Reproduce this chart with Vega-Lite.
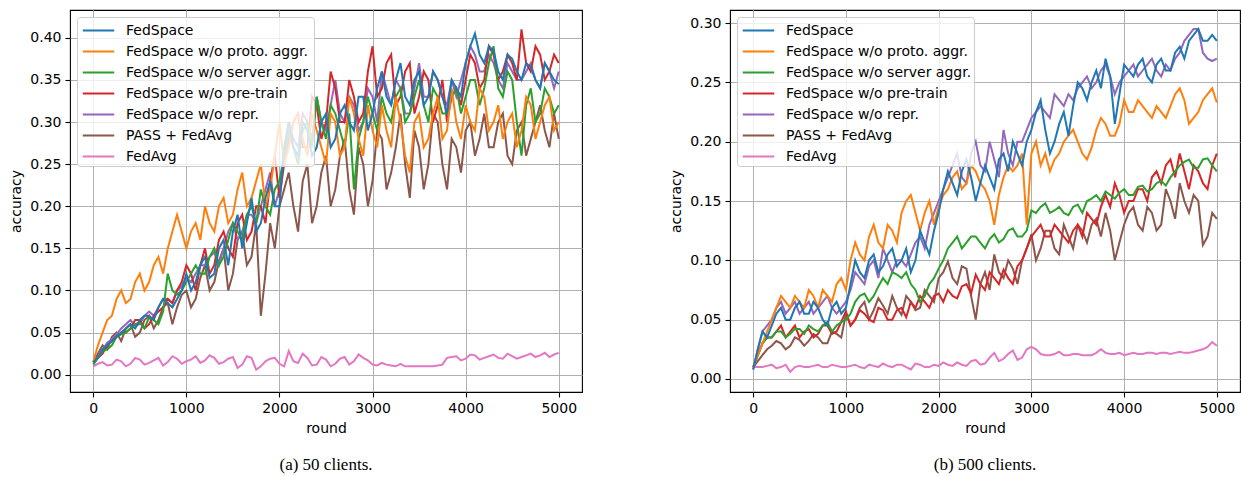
{
"$schema":"https://vega.github.io/schema/vega-lite/v6.json",
"padding":{"left":9,"top":9,"right":1,"bottom":0},
"config":{
"font":"DejaVu Sans",
"view":{"stroke":"black","strokeWidth":1.1},
"axis":{"labelFont":"DejaVu Sans","labelFontSize":14,"labelColor":"black","titleFont":"DejaVu Sans","titleFontSize":14,"titleFontWeight":"normal","titleColor":"black","tickColor":"black","tickSize":5,"tickWidth":1.1,"domain":false,"gridColor":"#b0b0b0","gridWidth":1,"labelPadding":4,"titlePadding":6,"labelFlush":false,"labelOverlap":false},
"legend":{"orient":"top-left","offset":7,"title":null,"fillColor":"rgba(255,255,255,0.8)","strokeColor":"#cccccc","cornerRadius":3,"padding":2,"rowPadding":2,"symbolType":"M-1.5,0H1.5","symbolSize":441,"symbolStrokeWidth":2,"symbolOffset":8,"labelFont":"DejaVu Sans","labelFontSize":14,"labelColor":"black","labelOffset":16,"labelLimit":400},
"title":{"font":"Liberation Serif","fontSize":17,"fontWeight":"normal","color":"black","orient":"bottom","anchor":"middle","offset":22}
},
"resolve":{"scale":{"color":"independent","x":"independent","y":"independent"},"legend":{"color":"independent"}},
"spacing":86,
"datasets":{
"names":[{"s":"F","series":"FedSpace"},{"s":"P","series":"FedSpace w/o proto. aggr."},{"s":"S","series":"FedSpace w/o server aggr."},{"s":"T","series":"FedSpace w/o pre-train"},{"s":"R","series":"FedSpace w/o repr."},{"s":"A","series":"PASS + FedAvg"},{"s":"G","series":"FedAvg"}],
"a":[
{"s":"G","r":0,"v":0.01},{"s":"G","r":100,"v":0.015},{"s":"G","r":200,"v":0.012},{"s":"G","r":300,"v":0.016},{"s":"G","r":400,"v":0.013},{"s":"G","r":500,"v":0.018},{"s":"G","r":600,"v":0.014},{"s":"G","r":700,"v":0.02},{"s":"G","r":800,"v":0.015},{"s":"G","r":900,"v":0.019},{"s":"G","r":1000,"v":0.016},{"s":"G","r":1100,"v":0.022},{"s":"G","r":1200,"v":0.017},{"s":"G","r":1300,"v":0.02},{"s":"G","r":1400,"v":0.015},{"s":"G","r":1500,"v":0.021},{"s":"G","r":1600,"v":0.012},{"s":"G","r":1700,"v":0.02},{"s":"G","r":1800,"v":0.01},{"s":"G","r":1900,"v":0.019},{"s":"G","r":2000,"v":0.013},{"s":"G","r":2100,"v":0.028},{"s":"G","r":2200,"v":0.014},{"s":"G","r":2300,"v":0.02},{"s":"G","r":2400,"v":0.012},{"s":"G","r":2500,"v":0.018},{"s":"G","r":2600,"v":0.013},{"s":"G","r":2700,"v":0.021},{"s":"G","r":2800,"v":0.016},{"s":"G","r":2900,"v":0.02},{"s":"G","r":3000,"v":0.012},{"s":"G","r":3100,"v":0.014},{"s":"G","r":3200,"v":0.011},{"s":"G","r":3300,"v":0.013},{"s":"G","r":3400,"v":0.01},{"s":"G","r":3500,"v":0.01},{"s":"G","r":3600,"v":0.01},{"s":"G","r":3700,"v":0.011},{"s":"G","r":3800,"v":0.02},{"s":"G","r":3900,"v":0.022},{"s":"G","r":4000,"v":0.019},{"s":"G","r":4100,"v":0.023},{"s":"G","r":4200,"v":0.02},{"s":"G","r":4300,"v":0.024},{"s":"G","r":4400,"v":0.019},{"s":"G","r":4500,"v":0.022},{"s":"G","r":4600,"v":0.021},{"s":"G","r":4700,"v":0.025},{"s":"G","r":4800,"v":0.023},{"s":"G","r":4900,"v":0.021},{"s":"G","r":5000,"v":0.026},
{"s":"G","r":50,"v":0.013},{"s":"G","r":150,"v":0.011},{"s":"G","r":250,"v":0.018},{"s":"G","r":350,"v":0.01},{"s":"G","r":450,"v":0.02},{"s":"G","r":550,"v":0.012},{"s":"G","r":650,"v":0.017},{"s":"G","r":750,"v":0.011},{"s":"G","r":850,"v":0.022},{"s":"G","r":950,"v":0.013},{"s":"G","r":1050,"v":0.018},{"s":"G","r":1150,"v":0.014},{"s":"G","r":1250,"v":0.023},{"s":"G","r":1350,"v":0.013},{"s":"G","r":1450,"v":0.019},{"s":"G","r":1550,"v":0.008},{"s":"G","r":1650,"v":0.022},{"s":"G","r":1750,"v":0.006},{"s":"G","r":1850,"v":0.016},{"s":"G","r":1950,"v":0.02},{"s":"G","r":2050,"v":0.01},{"s":"G","r":2150,"v":0.016},{"s":"G","r":2250,"v":0.025},{"s":"G","r":2350,"v":0.011},{"s":"G","r":2450,"v":0.021},{"s":"G","r":2550,"v":0.01},{"s":"G","r":2650,"v":0.019},{"s":"G","r":2750,"v":0.012},{"s":"G","r":2850,"v":0.024},{"s":"G","r":2950,"v":0.017},{"s":"G","r":3050,"v":0.011},{"s":"G","r":3150,"v":0.012},{"s":"G","r":3250,"v":0.01},{"s":"G","r":3350,"v":0.01},{"s":"G","r":3450,"v":0.01},{"s":"G","r":3550,"v":0.01},{"s":"G","r":3650,"v":0.01},{"s":"G","r":3750,"v":0.012},{"s":"G","r":3850,"v":0.021},{"s":"G","r":3950,"v":0.017},{"s":"G","r":4050,"v":0.024},{"s":"G","r":4150,"v":0.018},{"s":"G","r":4250,"v":0.022},{"s":"G","r":4350,"v":0.02},{"s":"G","r":4450,"v":0.025},{"s":"G","r":4550,"v":0.019},{"s":"G","r":4650,"v":0.023},{"s":"G","r":4750,"v":0.021},{"s":"G","r":4850,"v":0.026},{"s":"G","r":4950,"v":0.024},
{"s":"A","r":0,"v":0.015},{"s":"A","r":100,"v":0.035},{"s":"A","r":200,"v":0.045},{"s":"A","r":300,"v":0.04},{"s":"A","r":400,"v":0.06},{"s":"A","r":500,"v":0.05},{"s":"A","r":600,"v":0.07},{"s":"A","r":700,"v":0.065},{"s":"A","r":800,"v":0.085},{"s":"A","r":900,"v":0.08},{"s":"A","r":1000,"v":0.1},{"s":"A","r":1100,"v":0.09},{"s":"A","r":1200,"v":0.13},{"s":"A","r":1300,"v":0.11},{"s":"A","r":1400,"v":0.15},{"s":"A","r":1500,"v":0.12},{"s":"A","r":1600,"v":0.17},{"s":"A","r":1700,"v":0.14},{"s":"A","r":1800,"v":0.07},{"s":"A","r":1900,"v":0.18},{"s":"A","r":2000,"v":0.2},{"s":"A","r":2100,"v":0.24},{"s":"A","r":2200,"v":0.17},{"s":"A","r":2300,"v":0.25},{"s":"A","r":2400,"v":0.2},{"s":"A","r":2500,"v":0.26},{"s":"A","r":2600,"v":0.22},{"s":"A","r":2700,"v":0.28},{"s":"A","r":2800,"v":0.19},{"s":"A","r":2900,"v":0.25},{"s":"A","r":3000,"v":0.23},{"s":"A","r":3100,"v":0.28},{"s":"A","r":3200,"v":0.24},{"s":"A","r":3300,"v":0.31},{"s":"A","r":3400,"v":0.21},{"s":"A","r":3500,"v":0.27},{"s":"A","r":3600,"v":0.25},{"s":"A","r":3700,"v":0.3},{"s":"A","r":3800,"v":0.22},{"s":"A","r":3900,"v":0.27},{"s":"A","r":4000,"v":0.29},{"s":"A","r":4100,"v":0.26},{"s":"A","r":4200,"v":0.31},{"s":"A","r":4300,"v":0.27},{"s":"A","r":4400,"v":0.31},{"s":"A","r":4500,"v":0.25},{"s":"A","r":4600,"v":0.3},{"s":"A","r":4700,"v":0.28},{"s":"A","r":4800,"v":0.32},{"s":"A","r":4900,"v":0.27},{"s":"A","r":5000,"v":0.28},
{"s":"A","r":50,"v":0.025},{"s":"A","r":150,"v":0.03},{"s":"A","r":250,"v":0.05},{"s":"A","r":350,"v":0.055},{"s":"A","r":450,"v":0.045},{"s":"A","r":550,"v":0.065},{"s":"A","r":650,"v":0.055},{"s":"A","r":750,"v":0.08},{"s":"A","r":850,"v":0.06},{"s":"A","r":950,"v":0.095},{"s":"A","r":1050,"v":0.08},{"s":"A","r":1150,"v":0.115},{"s":"A","r":1250,"v":0.1},{"s":"A","r":1350,"v":0.135},{"s":"A","r":1450,"v":0.1},{"s":"A","r":1550,"v":0.16},{"s":"A","r":1650,"v":0.13},{"s":"A","r":1750,"v":0.18},{"s":"A","r":1850,"v":0.12},{"s":"A","r":1950,"v":0.15},{"s":"A","r":2050,"v":0.22},{"s":"A","r":2150,"v":0.2},{"s":"A","r":2250,"v":0.23},{"s":"A","r":2350,"v":0.18},{"s":"A","r":2450,"v":0.24},{"s":"A","r":2550,"v":0.2},{"s":"A","r":2650,"v":0.26},{"s":"A","r":2750,"v":0.22},{"s":"A","r":2850,"v":0.27},{"s":"A","r":2950,"v":0.2},{"s":"A","r":3050,"v":0.29},{"s":"A","r":3150,"v":0.22},{"s":"A","r":3250,"v":0.27},{"s":"A","r":3350,"v":0.25},{"s":"A","r":3450,"v":0.29},{"s":"A","r":3550,"v":0.22},{"s":"A","r":3650,"v":0.31},{"s":"A","r":3750,"v":0.25},{"s":"A","r":3850,"v":0.28},{"s":"A","r":3950,"v":0.24},{"s":"A","r":4050,"v":0.3},{"s":"A","r":4150,"v":0.28},{"s":"A","r":4250,"v":0.27},{"s":"A","r":4350,"v":0.3},{"s":"A","r":4450,"v":0.26},{"s":"A","r":4550,"v":0.29},{"s":"A","r":4650,"v":0.26},{"s":"A","r":4750,"v":0.3},{"s":"A","r":4850,"v":0.29},{"s":"A","r":4950,"v":0.31},
{"s":"R","r":0,"v":0.013},{"s":"R","r":100,"v":0.03},{"s":"R","r":200,"v":0.042},{"s":"R","r":300,"v":0.055},{"s":"R","r":400,"v":0.065},{"s":"R","r":500,"v":0.06},{"s":"R","r":600,"v":0.075},{"s":"R","r":700,"v":0.08},{"s":"R","r":800,"v":0.09},{"s":"R","r":900,"v":0.1},{"s":"R","r":1000,"v":0.115},{"s":"R","r":1100,"v":0.12},{"s":"R","r":1200,"v":0.13},{"s":"R","r":1300,"v":0.145},{"s":"R","r":1400,"v":0.15},{"s":"R","r":1500,"v":0.18},{"s":"R","r":1600,"v":0.17},{"s":"R","r":1700,"v":0.19},{"s":"R","r":1800,"v":0.2},{"s":"R","r":1900,"v":0.24},{"s":"R","r":2000,"v":0.22},{"s":"R","r":2100,"v":0.3},{"s":"R","r":2200,"v":0.27},{"s":"R","r":2300,"v":0.3},{"s":"R","r":2400,"v":0.33},{"s":"R","r":2500,"v":0.29},{"s":"R","r":2600,"v":0.35},{"s":"R","r":2700,"v":0.3},{"s":"R","r":2800,"v":0.32},{"s":"R","r":2900,"v":0.3},{"s":"R","r":3000,"v":0.33},{"s":"R","r":3100,"v":0.36},{"s":"R","r":3200,"v":0.32},{"s":"R","r":3300,"v":0.34},{"s":"R","r":3400,"v":0.31},{"s":"R","r":3500,"v":0.37},{"s":"R","r":3600,"v":0.33},{"s":"R","r":3700,"v":0.35},{"s":"R","r":3800,"v":0.32},{"s":"R","r":3900,"v":0.33},{"s":"R","r":4000,"v":0.37},{"s":"R","r":4100,"v":0.38},{"s":"R","r":4200,"v":0.36},{"s":"R","r":4300,"v":0.37},{"s":"R","r":4400,"v":0.34},{"s":"R","r":4500,"v":0.36},{"s":"R","r":4600,"v":0.35},{"s":"R","r":4700,"v":0.37},{"s":"R","r":4800,"v":0.34},{"s":"R","r":4900,"v":0.36},{"s":"R","r":5000,"v":0.36},
{"s":"R","r":50,"v":0.02},{"s":"R","r":150,"v":0.038},{"s":"R","r":250,"v":0.048},{"s":"R","r":350,"v":0.06},{"s":"R","r":450,"v":0.058},{"s":"R","r":550,"v":0.07},{"s":"R","r":650,"v":0.07},{"s":"R","r":750,"v":0.09},{"s":"R","r":850,"v":0.085},{"s":"R","r":950,"v":0.105},{"s":"R","r":1050,"v":0.11},{"s":"R","r":1150,"v":0.13},{"s":"R","r":1250,"v":0.14},{"s":"R","r":1350,"v":0.13},{"s":"R","r":1450,"v":0.17},{"s":"R","r":1550,"v":0.16},{"s":"R","r":1650,"v":0.19},{"s":"R","r":1750,"v":0.18},{"s":"R","r":1850,"v":0.22},{"s":"R","r":1950,"v":0.2},{"s":"R","r":2050,"v":0.26},{"s":"R","r":2150,"v":0.28},{"s":"R","r":2250,"v":0.31},{"s":"R","r":2350,"v":0.28},{"s":"R","r":2450,"v":0.3},{"s":"R","r":2550,"v":0.32},{"s":"R","r":2650,"v":0.31},{"s":"R","r":2750,"v":0.33},{"s":"R","r":2850,"v":0.29},{"s":"R","r":2950,"v":0.34},{"s":"R","r":3050,"v":0.3},{"s":"R","r":3150,"v":0.34},{"s":"R","r":3250,"v":0.35},{"s":"R","r":3350,"v":0.31},{"s":"R","r":3450,"v":0.34},{"s":"R","r":3550,"v":0.33},{"s":"R","r":3650,"v":0.36},{"s":"R","r":3750,"v":0.33},{"s":"R","r":3850,"v":0.35},{"s":"R","r":3950,"v":0.35},{"s":"R","r":4050,"v":0.39},{"s":"R","r":4150,"v":0.36},{"s":"R","r":4250,"v":0.38},{"s":"R","r":4350,"v":0.35},{"s":"R","r":4450,"v":0.37},{"s":"R","r":4550,"v":0.35},{"s":"R","r":4650,"v":0.36},{"s":"R","r":4750,"v":0.35},{"s":"R","r":4850,"v":0.37},{"s":"R","r":4950,"v":0.34},
{"s":"T","r":0,"v":0.015},{"s":"T","r":100,"v":0.025},{"s":"T","r":200,"v":0.04},{"s":"T","r":300,"v":0.05},{"s":"T","r":400,"v":0.055},{"s":"T","r":500,"v":0.065},{"s":"T","r":600,"v":0.06},{"s":"T","r":700,"v":0.075},{"s":"T","r":800,"v":0.09},{"s":"T","r":900,"v":0.1},{"s":"T","r":1000,"v":0.13},{"s":"T","r":1100,"v":0.1},{"s":"T","r":1200,"v":0.15},{"s":"T","r":1300,"v":0.13},{"s":"T","r":1400,"v":0.17},{"s":"T","r":1500,"v":0.14},{"s":"T","r":1600,"v":0.19},{"s":"T","r":1700,"v":0.17},{"s":"T","r":1800,"v":0.2},{"s":"T","r":1900,"v":0.23},{"s":"T","r":2000,"v":0.21},{"s":"T","r":2100,"v":0.28},{"s":"T","r":2200,"v":0.31},{"s":"T","r":2300,"v":0.27},{"s":"T","r":2400,"v":0.32},{"s":"T","r":2500,"v":0.3},{"s":"T","r":2600,"v":0.34},{"s":"T","r":2700,"v":0.3},{"s":"T","r":2800,"v":0.33},{"s":"T","r":2900,"v":0.31},{"s":"T","r":3000,"v":0.39},{"s":"T","r":3100,"v":0.34},{"s":"T","r":3200,"v":0.38},{"s":"T","r":3300,"v":0.33},{"s":"T","r":3400,"v":0.37},{"s":"T","r":3500,"v":0.33},{"s":"T","r":3600,"v":0.35},{"s":"T","r":3700,"v":0.32},{"s":"T","r":3800,"v":0.3},{"s":"T","r":3900,"v":0.34},{"s":"T","r":4000,"v":0.35},{"s":"T","r":4100,"v":0.37},{"s":"T","r":4200,"v":0.35},{"s":"T","r":4300,"v":0.38},{"s":"T","r":4400,"v":0.36},{"s":"T","r":4500,"v":0.37},{"s":"T","r":4600,"v":0.41},{"s":"T","r":4700,"v":0.36},{"s":"T","r":4800,"v":0.38},{"s":"T","r":4900,"v":0.36},{"s":"T","r":5000,"v":0.37},
{"s":"T","r":50,"v":0.02},{"s":"T","r":150,"v":0.035},{"s":"T","r":250,"v":0.045},{"s":"T","r":350,"v":0.05},{"s":"T","r":450,"v":0.065},{"s":"T","r":550,"v":0.055},{"s":"T","r":650,"v":0.07},{"s":"T","r":750,"v":0.08},{"s":"T","r":850,"v":0.085},{"s":"T","r":950,"v":0.11},{"s":"T","r":1050,"v":0.12},{"s":"T","r":1150,"v":0.13},{"s":"T","r":1250,"v":0.12},{"s":"T","r":1350,"v":0.16},{"s":"T","r":1450,"v":0.15},{"s":"T","r":1550,"v":0.18},{"s":"T","r":1650,"v":0.16},{"s":"T","r":1750,"v":0.2},{"s":"T","r":1850,"v":0.18},{"s":"T","r":1950,"v":0.26},{"s":"T","r":2050,"v":0.25},{"s":"T","r":2150,"v":0.3},{"s":"T","r":2250,"v":0.27},{"s":"T","r":2350,"v":0.33},{"s":"T","r":2450,"v":0.28},{"s":"T","r":2550,"v":0.36},{"s":"T","r":2650,"v":0.3},{"s":"T","r":2750,"v":0.35},{"s":"T","r":2850,"v":0.3},{"s":"T","r":2950,"v":0.36},{"s":"T","r":3050,"v":0.33},{"s":"T","r":3150,"v":0.37},{"s":"T","r":3250,"v":0.32},{"s":"T","r":3350,"v":0.36},{"s":"T","r":3450,"v":0.31},{"s":"T","r":3550,"v":0.36},{"s":"T","r":3650,"v":0.3},{"s":"T","r":3750,"v":0.35},{"s":"T","r":3850,"v":0.33},{"s":"T","r":3950,"v":0.32},{"s":"T","r":4050,"v":0.38},{"s":"T","r":4150,"v":0.34},{"s":"T","r":4250,"v":0.39},{"s":"T","r":4350,"v":0.35},{"s":"T","r":4450,"v":0.38},{"s":"T","r":4550,"v":0.35},{"s":"T","r":4650,"v":0.37},{"s":"T","r":4750,"v":0.39},{"s":"T","r":4850,"v":0.35},{"s":"T","r":4950,"v":0.38},
{"s":"S","r":0,"v":0.012},{"s":"S","r":100,"v":0.028},{"s":"S","r":200,"v":0.035},{"s":"S","r":300,"v":0.048},{"s":"S","r":400,"v":0.055},{"s":"S","r":500,"v":0.062},{"s":"S","r":600,"v":0.068},{"s":"S","r":700,"v":0.06},{"s":"S","r":800,"v":0.12},{"s":"S","r":900,"v":0.095},{"s":"S","r":1000,"v":0.11},{"s":"S","r":1100,"v":0.13},{"s":"S","r":1200,"v":0.12},{"s":"S","r":1300,"v":0.15},{"s":"S","r":1400,"v":0.14},{"s":"S","r":1500,"v":0.18},{"s":"S","r":1600,"v":0.16},{"s":"S","r":1700,"v":0.2},{"s":"S","r":1800,"v":0.22},{"s":"S","r":1900,"v":0.19},{"s":"S","r":2000,"v":0.23},{"s":"S","r":2100,"v":0.29},{"s":"S","r":2200,"v":0.25},{"s":"S","r":2300,"v":0.3},{"s":"S","r":2400,"v":0.33},{"s":"S","r":2500,"v":0.28},{"s":"S","r":2600,"v":0.31},{"s":"S","r":2700,"v":0.27},{"s":"S","r":2800,"v":0.22},{"s":"S","r":2900,"v":0.3},{"s":"S","r":3000,"v":0.31},{"s":"S","r":3100,"v":0.33},{"s":"S","r":3200,"v":0.3},{"s":"S","r":3300,"v":0.34},{"s":"S","r":3400,"v":0.31},{"s":"S","r":3500,"v":0.35},{"s":"S","r":3600,"v":0.3},{"s":"S","r":3700,"v":0.33},{"s":"S","r":3800,"v":0.31},{"s":"S","r":3900,"v":0.34},{"s":"S","r":4000,"v":0.33},{"s":"S","r":4100,"v":0.35},{"s":"S","r":4200,"v":0.34},{"s":"S","r":4300,"v":0.39},{"s":"S","r":4400,"v":0.33},{"s":"S","r":4500,"v":0.35},{"s":"S","r":4600,"v":0.26},{"s":"S","r":4700,"v":0.34},{"s":"S","r":4800,"v":0.31},{"s":"S","r":4900,"v":0.33},{"s":"S","r":5000,"v":0.32},
{"s":"S","r":50,"v":0.02},{"s":"S","r":150,"v":0.03},{"s":"S","r":250,"v":0.045},{"s":"S","r":350,"v":0.05},{"s":"S","r":450,"v":0.06},{"s":"S","r":550,"v":0.055},{"s":"S","r":650,"v":0.065},{"s":"S","r":750,"v":0.075},{"s":"S","r":850,"v":0.1},{"s":"S","r":950,"v":0.1},{"s":"S","r":1050,"v":0.12},{"s":"S","r":1150,"v":0.12},{"s":"S","r":1250,"v":0.14},{"s":"S","r":1350,"v":0.13},{"s":"S","r":1450,"v":0.16},{"s":"S","r":1550,"v":0.17},{"s":"S","r":1650,"v":0.19},{"s":"S","r":1750,"v":0.18},{"s":"S","r":1850,"v":0.2},{"s":"S","r":1950,"v":0.22},{"s":"S","r":2050,"v":0.26},{"s":"S","r":2150,"v":0.27},{"s":"S","r":2250,"v":0.29},{"s":"S","r":2350,"v":0.27},{"s":"S","r":2450,"v":0.3},{"s":"S","r":2550,"v":0.32},{"s":"S","r":2650,"v":0.29},{"s":"S","r":2750,"v":0.31},{"s":"S","r":2850,"v":0.28},{"s":"S","r":2950,"v":0.33},{"s":"S","r":3050,"v":0.29},{"s":"S","r":3150,"v":0.31},{"s":"S","r":3250,"v":0.33},{"s":"S","r":3350,"v":0.3},{"s":"S","r":3450,"v":0.33},{"s":"S","r":3550,"v":0.32},{"s":"S","r":3650,"v":0.34},{"s":"S","r":3750,"v":0.31},{"s":"S","r":3850,"v":0.33},{"s":"S","r":3950,"v":0.31},{"s":"S","r":4050,"v":0.35},{"s":"S","r":4150,"v":0.32},{"s":"S","r":4250,"v":0.37},{"s":"S","r":4350,"v":0.34},{"s":"S","r":4450,"v":0.36},{"s":"S","r":4550,"v":0.3},{"s":"S","r":4650,"v":0.32},{"s":"S","r":4750,"v":0.3},{"s":"S","r":4850,"v":0.34},{"s":"S","r":4950,"v":0.31},
{"s":"P","r":0,"v":0.015},{"s":"P","r":100,"v":0.05},{"s":"P","r":200,"v":0.07},{"s":"P","r":300,"v":0.1},{"s":"P","r":400,"v":0.09},{"s":"P","r":500,"v":0.12},{"s":"P","r":600,"v":0.11},{"s":"P","r":700,"v":0.14},{"s":"P","r":800,"v":0.15},{"s":"P","r":900,"v":0.19},{"s":"P","r":1000,"v":0.15},{"s":"P","r":1100,"v":0.18},{"s":"P","r":1200,"v":0.2},{"s":"P","r":1300,"v":0.17},{"s":"P","r":1400,"v":0.21},{"s":"P","r":1500,"v":0.19},{"s":"P","r":1600,"v":0.24},{"s":"P","r":1700,"v":0.21},{"s":"P","r":1800,"v":0.25},{"s":"P","r":1900,"v":0.22},{"s":"P","r":2000,"v":0.3},{"s":"P","r":2100,"v":0.27},{"s":"P","r":2200,"v":0.31},{"s":"P","r":2300,"v":0.26},{"s":"P","r":2400,"v":0.29},{"s":"P","r":2500,"v":0.25},{"s":"P","r":2600,"v":0.3},{"s":"P","r":2700,"v":0.27},{"s":"P","r":2800,"v":0.31},{"s":"P","r":2900,"v":0.26},{"s":"P","r":3000,"v":0.29},{"s":"P","r":3100,"v":0.32},{"s":"P","r":3200,"v":0.27},{"s":"P","r":3300,"v":0.3},{"s":"P","r":3400,"v":0.24},{"s":"P","r":3500,"v":0.31},{"s":"P","r":3600,"v":0.28},{"s":"P","r":3700,"v":0.33},{"s":"P","r":3800,"v":0.29},{"s":"P","r":3900,"v":0.3},{"s":"P","r":4000,"v":0.32},{"s":"P","r":4100,"v":0.29},{"s":"P","r":4200,"v":0.33},{"s":"P","r":4300,"v":0.3},{"s":"P","r":4400,"v":0.28},{"s":"P","r":4500,"v":0.31},{"s":"P","r":4600,"v":0.29},{"s":"P","r":4700,"v":0.32},{"s":"P","r":4800,"v":0.3},{"s":"P","r":4900,"v":0.33},{"s":"P","r":5000,"v":0.3},
{"s":"P","r":50,"v":0.035},{"s":"P","r":150,"v":0.065},{"s":"P","r":250,"v":0.09},{"s":"P","r":350,"v":0.085},{"s":"P","r":450,"v":0.11},{"s":"P","r":550,"v":0.1},{"s":"P","r":650,"v":0.13},{"s":"P","r":750,"v":0.12},{"s":"P","r":850,"v":0.17},{"s":"P","r":950,"v":0.17},{"s":"P","r":1050,"v":0.17},{"s":"P","r":1150,"v":0.16},{"s":"P","r":1250,"v":0.18},{"s":"P","r":1350,"v":0.2},{"s":"P","r":1450,"v":0.18},{"s":"P","r":1550,"v":0.22},{"s":"P","r":1650,"v":0.2},{"s":"P","r":1750,"v":0.23},{"s":"P","r":1850,"v":0.2},{"s":"P","r":1950,"v":0.26},{"s":"P","r":2050,"v":0.25},{"s":"P","r":2150,"v":0.3},{"s":"P","r":2250,"v":0.28},{"s":"P","r":2350,"v":0.31},{"s":"P","r":2450,"v":0.27},{"s":"P","r":2550,"v":0.31},{"s":"P","r":2650,"v":0.26},{"s":"P","r":2750,"v":0.33},{"s":"P","r":2850,"v":0.28},{"s":"P","r":2950,"v":0.32},{"s":"P","r":3050,"v":0.27},{"s":"P","r":3150,"v":0.29},{"s":"P","r":3250,"v":0.33},{"s":"P","r":3350,"v":0.26},{"s":"P","r":3450,"v":0.3},{"s":"P","r":3550,"v":0.27},{"s":"P","r":3650,"v":0.31},{"s":"P","r":3750,"v":0.28},{"s":"P","r":3850,"v":0.34},{"s":"P","r":3950,"v":0.28},{"s":"P","r":4050,"v":0.3},{"s":"P","r":4150,"v":0.34},{"s":"P","r":4250,"v":0.29},{"s":"P","r":4350,"v":0.32},{"s":"P","r":4450,"v":0.3},{"s":"P","r":4550,"v":0.27},{"s":"P","r":4650,"v":0.33},{"s":"P","r":4750,"v":0.28},{"s":"P","r":4850,"v":0.32},{"s":"P","r":4950,"v":0.29},
{"s":"F","r":0,"v":0.015},{"s":"F","r":100,"v":0.03},{"s":"F","r":200,"v":0.04},{"s":"F","r":300,"v":0.05},{"s":"F","r":400,"v":0.06},{"s":"F","r":500,"v":0.065},{"s":"F","r":600,"v":0.07},{"s":"F","r":700,"v":0.08},{"s":"F","r":800,"v":0.085},{"s":"F","r":900,"v":0.09},{"s":"F","r":1000,"v":0.12},{"s":"F","r":1100,"v":0.11},{"s":"F","r":1200,"v":0.14},{"s":"F","r":1300,"v":0.12},{"s":"F","r":1400,"v":0.16},{"s":"F","r":1500,"v":0.17},{"s":"F","r":1600,"v":0.15},{"s":"F","r":1700,"v":0.21},{"s":"F","r":1800,"v":0.18},{"s":"F","r":1900,"v":0.23},{"s":"F","r":2000,"v":0.2},{"s":"F","r":2100,"v":0.3},{"s":"F","r":2200,"v":0.26},{"s":"F","r":2300,"v":0.29},{"s":"F","r":2400,"v":0.27},{"s":"F","r":2500,"v":0.31},{"s":"F","r":2600,"v":0.28},{"s":"F","r":2700,"v":0.32},{"s":"F","r":2800,"v":0.29},{"s":"F","r":2900,"v":0.33},{"s":"F","r":3000,"v":0.31},{"s":"F","r":3100,"v":0.36},{"s":"F","r":3200,"v":0.32},{"s":"F","r":3300,"v":0.37},{"s":"F","r":3400,"v":0.32},{"s":"F","r":3500,"v":0.36},{"s":"F","r":3600,"v":0.33},{"s":"F","r":3700,"v":0.35},{"s":"F","r":3800,"v":0.31},{"s":"F","r":3900,"v":0.34},{"s":"F","r":4000,"v":0.37},{"s":"F","r":4100,"v":0.405},{"s":"F","r":4200,"v":0.37},{"s":"F","r":4300,"v":0.385},{"s":"F","r":4400,"v":0.35},{"s":"F","r":4500,"v":0.375},{"s":"F","r":4600,"v":0.35},{"s":"F","r":4700,"v":0.365},{"s":"F","r":4800,"v":0.34},{"s":"F","r":4900,"v":0.36},{"s":"F","r":5000,"v":0.345},
{"s":"F","r":50,"v":0.02},{"s":"F","r":150,"v":0.035},{"s":"F","r":250,"v":0.045},{"s":"F","r":350,"v":0.055},{"s":"F","r":450,"v":0.055},{"s":"F","r":550,"v":0.07},{"s":"F","r":650,"v":0.065},{"s":"F","r":750,"v":0.09},{"s":"F","r":850,"v":0.08},{"s":"F","r":950,"v":0.1},{"s":"F","r":1050,"v":0.1},{"s":"F","r":1150,"v":0.13},{"s":"F","r":1250,"v":0.115},{"s":"F","r":1350,"v":0.15},{"s":"F","r":1450,"v":0.13},{"s":"F","r":1550,"v":0.19},{"s":"F","r":1650,"v":0.18},{"s":"F","r":1750,"v":0.17},{"s":"F","r":1850,"v":0.21},{"s":"F","r":1950,"v":0.2},{"s":"F","r":2050,"v":0.27},{"s":"F","r":2150,"v":0.27},{"s":"F","r":2250,"v":0.3},{"s":"F","r":2350,"v":0.26},{"s":"F","r":2450,"v":0.3},{"s":"F","r":2550,"v":0.27},{"s":"F","r":2650,"v":0.31},{"s":"F","r":2750,"v":0.3},{"s":"F","r":2850,"v":0.33},{"s":"F","r":2950,"v":0.29},{"s":"F","r":3050,"v":0.34},{"s":"F","r":3150,"v":0.33},{"s":"F","r":3250,"v":0.35},{"s":"F","r":3350,"v":0.33},{"s":"F","r":3450,"v":0.35},{"s":"F","r":3550,"v":0.32},{"s":"F","r":3650,"v":0.36},{"s":"F","r":3750,"v":0.33},{"s":"F","r":3850,"v":0.35},{"s":"F","r":3950,"v":0.33},{"s":"F","r":4050,"v":0.39},{"s":"F","r":4150,"v":0.38},{"s":"F","r":4250,"v":0.39},{"s":"F","r":4350,"v":0.36},{"s":"F","r":4450,"v":0.38},{"s":"F","r":4550,"v":0.36},{"s":"F","r":4650,"v":0.37},{"s":"F","r":4750,"v":0.35},{"s":"F","r":4850,"v":0.37},{"s":"F","r":4950,"v":0.35}
],
"b":[
{"s":"G","r":0,"v":0.01},{"s":"G","r":100,"v":0.01},{"s":"G","r":200,"v":0.012},{"s":"G","r":300,"v":0.01},{"s":"G","r":400,"v":0.006},{"s":"G","r":500,"v":0.011},{"s":"G","r":600,"v":0.01},{"s":"G","r":700,"v":0.012},{"s":"G","r":800,"v":0.01},{"s":"G","r":900,"v":0.011},{"s":"G","r":1000,"v":0.01},{"s":"G","r":1100,"v":0.012},{"s":"G","r":1200,"v":0.009},{"s":"G","r":1300,"v":0.011},{"s":"G","r":1400,"v":0.013},{"s":"G","r":1500,"v":0.01},{"s":"G","r":1600,"v":0.012},{"s":"G","r":1700,"v":0.008},{"s":"G","r":1800,"v":0.012},{"s":"G","r":1900,"v":0.01},{"s":"G","r":2000,"v":0.011},{"s":"G","r":2100,"v":0.012},{"s":"G","r":2200,"v":0.014},{"s":"G","r":2300,"v":0.011},{"s":"G","r":2400,"v":0.016},{"s":"G","r":2500,"v":0.013},{"s":"G","r":2600,"v":0.022},{"s":"G","r":2700,"v":0.017},{"s":"G","r":2800,"v":0.024},{"s":"G","r":2900,"v":0.018},{"s":"G","r":3000,"v":0.027},{"s":"G","r":3100,"v":0.021},{"s":"G","r":3200,"v":0.02},{"s":"G","r":3300,"v":0.023},{"s":"G","r":3400,"v":0.02},{"s":"G","r":3500,"v":0.021},{"s":"G","r":3600,"v":0.02},{"s":"G","r":3700,"v":0.022},{"s":"G","r":3800,"v":0.022},{"s":"G","r":3900,"v":0.021},{"s":"G","r":4000,"v":0.02},{"s":"G","r":4100,"v":0.022},{"s":"G","r":4200,"v":0.021},{"s":"G","r":4300,"v":0.022},{"s":"G","r":4400,"v":0.022},{"s":"G","r":4500,"v":0.021},{"s":"G","r":4600,"v":0.023},{"s":"G","r":4700,"v":0.022},{"s":"G","r":4800,"v":0.024},{"s":"G","r":4900,"v":0.027},{"s":"G","r":5000,"v":0.028},
{"s":"G","r":50,"v":0.01},{"s":"G","r":150,"v":0.011},{"s":"G","r":250,"v":0.009},{"s":"G","r":350,"v":0.012},{"s":"G","r":450,"v":0.01},{"s":"G","r":550,"v":0.01},{"s":"G","r":650,"v":0.011},{"s":"G","r":750,"v":0.01},{"s":"G","r":850,"v":0.012},{"s":"G","r":950,"v":0.01},{"s":"G","r":1050,"v":0.011},{"s":"G","r":1150,"v":0.01},{"s":"G","r":1250,"v":0.012},{"s":"G","r":1350,"v":0.01},{"s":"G","r":1450,"v":0.011},{"s":"G","r":1550,"v":0.012},{"s":"G","r":1650,"v":0.01},{"s":"G","r":1750,"v":0.013},{"s":"G","r":1850,"v":0.01},{"s":"G","r":1950,"v":0.012},{"s":"G","r":2050,"v":0.014},{"s":"G","r":2150,"v":0.011},{"s":"G","r":2250,"v":0.012},{"s":"G","r":2350,"v":0.015},{"s":"G","r":2450,"v":0.012},{"s":"G","r":2550,"v":0.018},{"s":"G","r":2650,"v":0.015},{"s":"G","r":2750,"v":0.021},{"s":"G","r":2850,"v":0.016},{"s":"G","r":2950,"v":0.025},{"s":"G","r":3050,"v":0.025},{"s":"G","r":3150,"v":0.02},{"s":"G","r":3250,"v":0.021},{"s":"G","r":3350,"v":0.02},{"s":"G","r":3450,"v":0.021},{"s":"G","r":3550,"v":0.02},{"s":"G","r":3650,"v":0.02},{"s":"G","r":3750,"v":0.025},{"s":"G","r":3850,"v":0.021},{"s":"G","r":3950,"v":0.022},{"s":"G","r":4050,"v":0.021},{"s":"G","r":4150,"v":0.021},{"s":"G","r":4250,"v":0.022},{"s":"G","r":4350,"v":0.021},{"s":"G","r":4450,"v":0.022},{"s":"G","r":4550,"v":0.022},{"s":"G","r":4650,"v":0.022},{"s":"G","r":4750,"v":0.023},{"s":"G","r":4850,"v":0.025},{"s":"G","r":4950,"v":0.031},
{"s":"A","r":0,"v":0.01},{"s":"A","r":100,"v":0.02},{"s":"A","r":200,"v":0.028},{"s":"A","r":300,"v":0.03},{"s":"A","r":400,"v":0.028},{"s":"A","r":500,"v":0.033},{"s":"A","r":600,"v":0.032},{"s":"A","r":700,"v":0.035},{"s":"A","r":800,"v":0.03},{"s":"A","r":900,"v":0.038},{"s":"A","r":1000,"v":0.055},{"s":"A","r":1100,"v":0.05},{"s":"A","r":1200,"v":0.065},{"s":"A","r":1300,"v":0.058},{"s":"A","r":1400,"v":0.062},{"s":"A","r":1500,"v":0.07},{"s":"A","r":1600,"v":0.054},{"s":"A","r":1700,"v":0.065},{"s":"A","r":1800,"v":0.06},{"s":"A","r":1900,"v":0.07},{"s":"A","r":2000,"v":0.085},{"s":"A","r":2100,"v":0.099},{"s":"A","r":2200,"v":0.08},{"s":"A","r":2300,"v":0.093},{"s":"A","r":2400,"v":0.05},{"s":"A","r":2500,"v":0.09},{"s":"A","r":2600,"v":0.105},{"s":"A","r":2700,"v":0.085},{"s":"A","r":2800,"v":0.093},{"s":"A","r":2900,"v":0.1},{"s":"A","r":3000,"v":0.122},{"s":"A","r":3100,"v":0.11},{"s":"A","r":3200,"v":0.125},{"s":"A","r":3300,"v":0.105},{"s":"A","r":3400,"v":0.12},{"s":"A","r":3500,"v":0.13},{"s":"A","r":3600,"v":0.115},{"s":"A","r":3700,"v":0.135},{"s":"A","r":3800,"v":0.14},{"s":"A","r":3900,"v":0.1},{"s":"A","r":4000,"v":0.13},{"s":"A","r":4100,"v":0.145},{"s":"A","r":4200,"v":0.125},{"s":"A","r":4300,"v":0.14},{"s":"A","r":4400,"v":0.13},{"s":"A","r":4500,"v":0.15},{"s":"A","r":4600,"v":0.165},{"s":"A","r":4700,"v":0.14},{"s":"A","r":4800,"v":0.15},{"s":"A","r":4900,"v":0.12},{"s":"A","r":5000,"v":0.135},
{"s":"A","r":50,"v":0.015},{"s":"A","r":150,"v":0.025},{"s":"A","r":250,"v":0.032},{"s":"A","r":350,"v":0.025},{"s":"A","r":450,"v":0.035},{"s":"A","r":550,"v":0.028},{"s":"A","r":650,"v":0.038},{"s":"A","r":750,"v":0.03},{"s":"A","r":850,"v":0.04},{"s":"A","r":950,"v":0.035},{"s":"A","r":1050,"v":0.045},{"s":"A","r":1150,"v":0.06},{"s":"A","r":1250,"v":0.05},{"s":"A","r":1350,"v":0.068},{"s":"A","r":1450,"v":0.055},{"s":"A","r":1550,"v":0.06},{"s":"A","r":1650,"v":0.07},{"s":"A","r":1750,"v":0.058},{"s":"A","r":1850,"v":0.075},{"s":"A","r":1950,"v":0.065},{"s":"A","r":2050,"v":0.09},{"s":"A","r":2150,"v":0.085},{"s":"A","r":2250,"v":0.095},{"s":"A","r":2350,"v":0.07},{"s":"A","r":2450,"v":0.08},{"s":"A","r":2550,"v":0.075},{"s":"A","r":2650,"v":0.09},{"s":"A","r":2750,"v":0.1},{"s":"A","r":2850,"v":0.08},{"s":"A","r":2950,"v":0.11},{"s":"A","r":3050,"v":0.1},{"s":"A","r":3150,"v":0.125},{"s":"A","r":3250,"v":0.11},{"s":"A","r":3350,"v":0.13},{"s":"A","r":3450,"v":0.11},{"s":"A","r":3550,"v":0.125},{"s":"A","r":3650,"v":0.13},{"s":"A","r":3750,"v":0.12},{"s":"A","r":3850,"v":0.125},{"s":"A","r":3950,"v":0.115},{"s":"A","r":4050,"v":0.14},{"s":"A","r":4150,"v":0.13},{"s":"A","r":4250,"v":0.145},{"s":"A","r":4350,"v":0.125},{"s":"A","r":4450,"v":0.16},{"s":"A","r":4550,"v":0.135},{"s":"A","r":4650,"v":0.15},{"s":"A","r":4750,"v":0.155},{"s":"A","r":4850,"v":0.113},{"s":"A","r":4950,"v":0.14},
{"s":"R","r":0,"v":0.008},{"s":"R","r":100,"v":0.04},{"s":"R","r":200,"v":0.05},{"s":"R","r":300,"v":0.065},{"s":"R","r":400,"v":0.06},{"s":"R","r":500,"v":0.055},{"s":"R","r":600,"v":0.065},{"s":"R","r":700,"v":0.06},{"s":"R","r":800,"v":0.07},{"s":"R","r":900,"v":0.055},{"s":"R","r":1000,"v":0.065},{"s":"R","r":1100,"v":0.09},{"s":"R","r":1200,"v":0.08},{"s":"R","r":1300,"v":0.1},{"s":"R","r":1400,"v":0.11},{"s":"R","r":1500,"v":0.09},{"s":"R","r":1600,"v":0.1},{"s":"R","r":1700,"v":0.105},{"s":"R","r":1800,"v":0.12},{"s":"R","r":1900,"v":0.13},{"s":"R","r":2000,"v":0.15},{"s":"R","r":2100,"v":0.17},{"s":"R","r":2200,"v":0.19},{"s":"R","r":2300,"v":0.165},{"s":"R","r":2400,"v":0.2},{"s":"R","r":2500,"v":0.175},{"s":"R","r":2600,"v":0.185},{"s":"R","r":2700,"v":0.21},{"s":"R","r":2800,"v":0.18},{"s":"R","r":2900,"v":0.2},{"s":"R","r":3000,"v":0.22},{"s":"R","r":3100,"v":0.23},{"s":"R","r":3200,"v":0.22},{"s":"R","r":3300,"v":0.235},{"s":"R","r":3400,"v":0.24},{"s":"R","r":3500,"v":0.245},{"s":"R","r":3600,"v":0.255},{"s":"R","r":3700,"v":0.25},{"s":"R","r":3800,"v":0.265},{"s":"R","r":3900,"v":0.24},{"s":"R","r":4000,"v":0.255},{"s":"R","r":4100,"v":0.265},{"s":"R","r":4200,"v":0.26},{"s":"R","r":4300,"v":0.27},{"s":"R","r":4400,"v":0.255},{"s":"R","r":4500,"v":0.26},{"s":"R","r":4600,"v":0.275},{"s":"R","r":4700,"v":0.29},{"s":"R","r":4800,"v":0.295},{"s":"R","r":4900,"v":0.27},{"s":"R","r":5000,"v":0.27},
{"s":"R","r":50,"v":0.025},{"s":"R","r":150,"v":0.045},{"s":"R","r":250,"v":0.06},{"s":"R","r":350,"v":0.055},{"s":"R","r":450,"v":0.065},{"s":"R","r":550,"v":0.06},{"s":"R","r":650,"v":0.055},{"s":"R","r":750,"v":0.065},{"s":"R","r":850,"v":0.06},{"s":"R","r":950,"v":0.06},{"s":"R","r":1050,"v":0.075},{"s":"R","r":1150,"v":0.085},{"s":"R","r":1250,"v":0.095},{"s":"R","r":1350,"v":0.085},{"s":"R","r":1450,"v":0.1},{"s":"R","r":1550,"v":0.1},{"s":"R","r":1650,"v":0.095},{"s":"R","r":1750,"v":0.115},{"s":"R","r":1850,"v":0.11},{"s":"R","r":1950,"v":0.14},{"s":"R","r":2050,"v":0.16},{"s":"R","r":2150,"v":0.18},{"s":"R","r":2250,"v":0.17},{"s":"R","r":2350,"v":0.19},{"s":"R","r":2450,"v":0.18},{"s":"R","r":2550,"v":0.2},{"s":"R","r":2650,"v":0.17},{"s":"R","r":2750,"v":0.19},{"s":"R","r":2850,"v":0.2},{"s":"R","r":2950,"v":0.21},{"s":"R","r":3050,"v":0.225},{"s":"R","r":3150,"v":0.225},{"s":"R","r":3250,"v":0.24},{"s":"R","r":3350,"v":0.23},{"s":"R","r":3450,"v":0.235},{"s":"R","r":3550,"v":0.25},{"s":"R","r":3650,"v":0.245},{"s":"R","r":3750,"v":0.26},{"s":"R","r":3850,"v":0.255},{"s":"R","r":3950,"v":0.25},{"s":"R","r":4050,"v":0.26},{"s":"R","r":4150,"v":0.255},{"s":"R","r":4250,"v":0.265},{"s":"R","r":4350,"v":0.26},{"s":"R","r":4450,"v":0.265},{"s":"R","r":4550,"v":0.27},{"s":"R","r":4650,"v":0.285},{"s":"R","r":4750,"v":0.295},{"s":"R","r":4850,"v":0.275},{"s":"R","r":4950,"v":0.268},
{"s":"T","r":0,"v":0.01},{"s":"T","r":100,"v":0.03},{"s":"T","r":200,"v":0.035},{"s":"T","r":300,"v":0.045},{"s":"T","r":400,"v":0.04},{"s":"T","r":500,"v":0.035},{"s":"T","r":600,"v":0.042},{"s":"T","r":700,"v":0.038},{"s":"T","r":800,"v":0.045},{"s":"T","r":900,"v":0.04},{"s":"T","r":1000,"v":0.057},{"s":"T","r":1100,"v":0.05},{"s":"T","r":1200,"v":0.055},{"s":"T","r":1300,"v":0.048},{"s":"T","r":1400,"v":0.058},{"s":"T","r":1500,"v":0.05},{"s":"T","r":1600,"v":0.06},{"s":"T","r":1700,"v":0.065},{"s":"T","r":1800,"v":0.07},{"s":"T","r":1900,"v":0.06},{"s":"T","r":2000,"v":0.072},{"s":"T","r":2100,"v":0.075},{"s":"T","r":2200,"v":0.068},{"s":"T","r":2300,"v":0.08},{"s":"T","r":2400,"v":0.088},{"s":"T","r":2500,"v":0.075},{"s":"T","r":2600,"v":0.085},{"s":"T","r":2700,"v":0.092},{"s":"T","r":2800,"v":0.08},{"s":"T","r":2900,"v":0.1},{"s":"T","r":3000,"v":0.12},{"s":"T","r":3100,"v":0.13},{"s":"T","r":3200,"v":0.12},{"s":"T","r":3300,"v":0.125},{"s":"T","r":3400,"v":0.115},{"s":"T","r":3500,"v":0.13},{"s":"T","r":3600,"v":0.14},{"s":"T","r":3700,"v":0.13},{"s":"T","r":3800,"v":0.155},{"s":"T","r":3900,"v":0.165},{"s":"T","r":4000,"v":0.14},{"s":"T","r":4100,"v":0.15},{"s":"T","r":4200,"v":0.16},{"s":"T","r":4300,"v":0.17},{"s":"T","r":4400,"v":0.165},{"s":"T","r":4500,"v":0.185},{"s":"T","r":4600,"v":0.19},{"s":"T","r":4700,"v":0.16},{"s":"T","r":4800,"v":0.175},{"s":"T","r":4900,"v":0.16},{"s":"T","r":5000,"v":0.19},
{"s":"T","r":50,"v":0.02},{"s":"T","r":150,"v":0.035},{"s":"T","r":250,"v":0.04},{"s":"T","r":350,"v":0.035},{"s":"T","r":450,"v":0.045},{"s":"T","r":550,"v":0.04},{"s":"T","r":650,"v":0.035},{"s":"T","r":750,"v":0.045},{"s":"T","r":850,"v":0.038},{"s":"T","r":950,"v":0.048},{"s":"T","r":1050,"v":0.045},{"s":"T","r":1150,"v":0.058},{"s":"T","r":1250,"v":0.05},{"s":"T","r":1350,"v":0.06},{"s":"T","r":1450,"v":0.05},{"s":"T","r":1550,"v":0.058},{"s":"T","r":1650,"v":0.052},{"s":"T","r":1750,"v":0.06},{"s":"T","r":1850,"v":0.065},{"s":"T","r":1950,"v":0.07},{"s":"T","r":2050,"v":0.065},{"s":"T","r":2150,"v":0.07},{"s":"T","r":2250,"v":0.078},{"s":"T","r":2350,"v":0.072},{"s":"T","r":2450,"v":0.08},{"s":"T","r":2550,"v":0.09},{"s":"T","r":2650,"v":0.08},{"s":"T","r":2750,"v":0.085},{"s":"T","r":2850,"v":0.095},{"s":"T","r":2950,"v":0.11},{"s":"T","r":3050,"v":0.125},{"s":"T","r":3150,"v":0.12},{"s":"T","r":3250,"v":0.13},{"s":"T","r":3350,"v":0.12},{"s":"T","r":3450,"v":0.125},{"s":"T","r":3550,"v":0.12},{"s":"T","r":3650,"v":0.135},{"s":"T","r":3750,"v":0.145},{"s":"T","r":3850,"v":0.145},{"s":"T","r":3950,"v":0.155},{"s":"T","r":4050,"v":0.15},{"s":"T","r":4150,"v":0.16},{"s":"T","r":4250,"v":0.15},{"s":"T","r":4350,"v":0.175},{"s":"T","r":4450,"v":0.18},{"s":"T","r":4550,"v":0.17},{"s":"T","r":4650,"v":0.175},{"s":"T","r":4750,"v":0.18},{"s":"T","r":4850,"v":0.165},{"s":"T","r":4950,"v":0.18},
{"s":"S","r":0,"v":0.01},{"s":"S","r":100,"v":0.03},{"s":"S","r":200,"v":0.035},{"s":"S","r":300,"v":0.04},{"s":"S","r":400,"v":0.038},{"s":"S","r":500,"v":0.042},{"s":"S","r":600,"v":0.045},{"s":"S","r":700,"v":0.04},{"s":"S","r":800,"v":0.048},{"s":"S","r":900,"v":0.045},{"s":"S","r":1000,"v":0.05},{"s":"S","r":1100,"v":0.065},{"s":"S","r":1200,"v":0.072},{"s":"S","r":1300,"v":0.07},{"s":"S","r":1400,"v":0.085},{"s":"S","r":1500,"v":0.09},{"s":"S","r":1600,"v":0.085},{"s":"S","r":1700,"v":0.08},{"s":"S","r":1800,"v":0.065},{"s":"S","r":1900,"v":0.08},{"s":"S","r":2000,"v":0.093},{"s":"S","r":2100,"v":0.11},{"s":"S","r":2200,"v":0.12},{"s":"S","r":2300,"v":0.115},{"s":"S","r":2400,"v":0.12},{"s":"S","r":2500,"v":0.11},{"s":"S","r":2600,"v":0.122},{"s":"S","r":2700,"v":0.118},{"s":"S","r":2800,"v":0.127},{"s":"S","r":2900,"v":0.12},{"s":"S","r":3000,"v":0.142},{"s":"S","r":3100,"v":0.145},{"s":"S","r":3200,"v":0.14},{"s":"S","r":3300,"v":0.145},{"s":"S","r":3400,"v":0.138},{"s":"S","r":3500,"v":0.147},{"s":"S","r":3600,"v":0.15},{"s":"S","r":3700,"v":0.155},{"s":"S","r":3800,"v":0.158},{"s":"S","r":3900,"v":0.152},{"s":"S","r":4000,"v":0.16},{"s":"S","r":4100,"v":0.155},{"s":"S","r":4200,"v":0.163},{"s":"S","r":4300,"v":0.16},{"s":"S","r":4400,"v":0.167},{"s":"S","r":4500,"v":0.17},{"s":"S","r":4600,"v":0.18},{"s":"S","r":4700,"v":0.185},{"s":"S","r":4800,"v":0.178},{"s":"S","r":4900,"v":0.186},{"s":"S","r":5000,"v":0.175},
{"s":"S","r":50,"v":0.02},{"s":"S","r":150,"v":0.035},{"s":"S","r":250,"v":0.04},{"s":"S","r":350,"v":0.035},{"s":"S","r":450,"v":0.042},{"s":"S","r":550,"v":0.038},{"s":"S","r":650,"v":0.042},{"s":"S","r":750,"v":0.045},{"s":"S","r":850,"v":0.04},{"s":"S","r":950,"v":0.048},{"s":"S","r":1050,"v":0.055},{"s":"S","r":1150,"v":0.07},{"s":"S","r":1250,"v":0.065},{"s":"S","r":1350,"v":0.078},{"s":"S","r":1450,"v":0.08},{"s":"S","r":1550,"v":0.088},{"s":"S","r":1650,"v":0.09},{"s":"S","r":1750,"v":0.075},{"s":"S","r":1850,"v":0.07},{"s":"S","r":1950,"v":0.085},{"s":"S","r":2050,"v":0.1},{"s":"S","r":2150,"v":0.115},{"s":"S","r":2250,"v":0.11},{"s":"S","r":2350,"v":0.12},{"s":"S","r":2450,"v":0.115},{"s":"S","r":2550,"v":0.118},{"s":"S","r":2650,"v":0.115},{"s":"S","r":2750,"v":0.125},{"s":"S","r":2850,"v":0.12},{"s":"S","r":2950,"v":0.125},{"s":"S","r":3050,"v":0.14},{"s":"S","r":3150,"v":0.148},{"s":"S","r":3250,"v":0.142},{"s":"S","r":3350,"v":0.14},{"s":"S","r":3450,"v":0.145},{"s":"S","r":3550,"v":0.14},{"s":"S","r":3650,"v":0.152},{"s":"S","r":3750,"v":0.15},{"s":"S","r":3850,"v":0.155},{"s":"S","r":3950,"v":0.157},{"s":"S","r":4050,"v":0.155},{"s":"S","r":4150,"v":0.162},{"s":"S","r":4250,"v":0.158},{"s":"S","r":4350,"v":0.165},{"s":"S","r":4450,"v":0.163},{"s":"S","r":4550,"v":0.175},{"s":"S","r":4650,"v":0.183},{"s":"S","r":4750,"v":0.178},{"s":"S","r":4850,"v":0.185},{"s":"S","r":4950,"v":0.18},
{"s":"P","r":0,"v":0.01},{"s":"P","r":100,"v":0.03},{"s":"P","r":200,"v":0.05},{"s":"P","r":300,"v":0.07},{"s":"P","r":400,"v":0.06},{"s":"P","r":500,"v":0.065},{"s":"P","r":600,"v":0.075},{"s":"P","r":700,"v":0.06},{"s":"P","r":800,"v":0.07},{"s":"P","r":900,"v":0.08},{"s":"P","r":1000,"v":0.075},{"s":"P","r":1100,"v":0.115},{"s":"P","r":1200,"v":0.1},{"s":"P","r":1300,"v":0.13},{"s":"P","r":1400,"v":0.11},{"s":"P","r":1500,"v":0.125},{"s":"P","r":1600,"v":0.14},{"s":"P","r":1700,"v":0.155},{"s":"P","r":1800,"v":0.125},{"s":"P","r":1900,"v":0.15},{"s":"P","r":2000,"v":0.145},{"s":"P","r":2100,"v":0.16},{"s":"P","r":2200,"v":0.175},{"s":"P","r":2300,"v":0.165},{"s":"P","r":2400,"v":0.175},{"s":"P","r":2500,"v":0.16},{"s":"P","r":2600,"v":0.13},{"s":"P","r":2700,"v":0.17},{"s":"P","r":2800,"v":0.175},{"s":"P","r":2900,"v":0.19},{"s":"P","r":3000,"v":0.19},{"s":"P","r":3100,"v":0.18},{"s":"P","r":3200,"v":0.175},{"s":"P","r":3300,"v":0.19},{"s":"P","r":3400,"v":0.205},{"s":"P","r":3500,"v":0.2},{"s":"P","r":3600,"v":0.185},{"s":"P","r":3700,"v":0.21},{"s":"P","r":3800,"v":0.215},{"s":"P","r":3900,"v":0.205},{"s":"P","r":4000,"v":0.235},{"s":"P","r":4100,"v":0.225},{"s":"P","r":4200,"v":0.23},{"s":"P","r":4300,"v":0.22},{"s":"P","r":4400,"v":0.225},{"s":"P","r":4500,"v":0.23},{"s":"P","r":4600,"v":0.245},{"s":"P","r":4700,"v":0.215},{"s":"P","r":4800,"v":0.225},{"s":"P","r":4900,"v":0.24},{"s":"P","r":5000,"v":0.233},
{"s":"P","r":50,"v":0.02},{"s":"P","r":150,"v":0.04},{"s":"P","r":250,"v":0.06},{"s":"P","r":350,"v":0.065},{"s":"P","r":450,"v":0.07},{"s":"P","r":550,"v":0.06},{"s":"P","r":650,"v":0.07},{"s":"P","r":750,"v":0.075},{"s":"P","r":850,"v":0.065},{"s":"P","r":950,"v":0.085},{"s":"P","r":1050,"v":0.1},{"s":"P","r":1150,"v":0.105},{"s":"P","r":1250,"v":0.12},{"s":"P","r":1350,"v":0.115},{"s":"P","r":1450,"v":0.13},{"s":"P","r":1550,"v":0.115},{"s":"P","r":1650,"v":0.15},{"s":"P","r":1750,"v":0.14},{"s":"P","r":1850,"v":0.14},{"s":"P","r":1950,"v":0.13},{"s":"P","r":2050,"v":0.155},{"s":"P","r":2150,"v":0.17},{"s":"P","r":2250,"v":0.16},{"s":"P","r":2350,"v":0.18},{"s":"P","r":2450,"v":0.165},{"s":"P","r":2550,"v":0.15},{"s":"P","r":2650,"v":0.155},{"s":"P","r":2750,"v":0.18},{"s":"P","r":2850,"v":0.18},{"s":"P","r":2950,"v":0.13},{"s":"P","r":3050,"v":0.2},{"s":"P","r":3150,"v":0.19},{"s":"P","r":3250,"v":0.185},{"s":"P","r":3350,"v":0.2},{"s":"P","r":3450,"v":0.21},{"s":"P","r":3550,"v":0.19},{"s":"P","r":3650,"v":0.195},{"s":"P","r":3750,"v":0.22},{"s":"P","r":3850,"v":0.205},{"s":"P","r":3950,"v":0.215},{"s":"P","r":4050,"v":0.225},{"s":"P","r":4150,"v":0.235},{"s":"P","r":4250,"v":0.225},{"s":"P","r":4350,"v":0.23},{"s":"P","r":4450,"v":0.22},{"s":"P","r":4550,"v":0.24},{"s":"P","r":4650,"v":0.235},{"s":"P","r":4750,"v":0.22},{"s":"P","r":4850,"v":0.235},{"s":"P","r":4950,"v":0.245},
{"s":"F","r":0,"v":0.008},{"s":"F","r":100,"v":0.04},{"s":"F","r":200,"v":0.045},{"s":"F","r":300,"v":0.06},{"s":"F","r":400,"v":0.05},{"s":"F","r":500,"v":0.065},{"s":"F","r":600,"v":0.055},{"s":"F","r":700,"v":0.06},{"s":"F","r":800,"v":0.045},{"s":"F","r":900,"v":0.065},{"s":"F","r":1000,"v":0.06},{"s":"F","r":1100,"v":0.1},{"s":"F","r":1200,"v":0.085},{"s":"F","r":1300,"v":0.105},{"s":"F","r":1400,"v":0.095},{"s":"F","r":1500,"v":0.11},{"s":"F","r":1600,"v":0.1},{"s":"F","r":1700,"v":0.09},{"s":"F","r":1800,"v":0.125},{"s":"F","r":1900,"v":0.105},{"s":"F","r":2000,"v":0.14},{"s":"F","r":2100,"v":0.175},{"s":"F","r":2200,"v":0.155},{"s":"F","r":2300,"v":0.185},{"s":"F","r":2400,"v":0.15},{"s":"F","r":2500,"v":0.18},{"s":"F","r":2600,"v":0.16},{"s":"F","r":2700,"v":0.19},{"s":"F","r":2800,"v":0.2},{"s":"F","r":2900,"v":0.18},{"s":"F","r":3000,"v":0.21},{"s":"F","r":3100,"v":0.235},{"s":"F","r":3200,"v":0.19},{"s":"F","r":3300,"v":0.215},{"s":"F","r":3400,"v":0.205},{"s":"F","r":3500,"v":0.25},{"s":"F","r":3600,"v":0.235},{"s":"F","r":3700,"v":0.26},{"s":"F","r":3800,"v":0.27},{"s":"F","r":3900,"v":0.215},{"s":"F","r":4000,"v":0.265},{"s":"F","r":4100,"v":0.255},{"s":"F","r":4200,"v":0.27},{"s":"F","r":4300,"v":0.25},{"s":"F","r":4400,"v":0.27},{"s":"F","r":4500,"v":0.26},{"s":"F","r":4600,"v":0.28},{"s":"F","r":4700,"v":0.285},{"s":"F","r":4800,"v":0.295},{"s":"F","r":4900,"v":0.285},{"s":"F","r":5000,"v":0.285},
{"s":"F","r":50,"v":0.025},{"s":"F","r":150,"v":0.035},{"s":"F","r":250,"v":0.055},{"s":"F","r":350,"v":0.05},{"s":"F","r":450,"v":0.06},{"s":"F","r":550,"v":0.055},{"s":"F","r":650,"v":0.065},{"s":"F","r":750,"v":0.05},{"s":"F","r":850,"v":0.06},{"s":"F","r":950,"v":0.055},{"s":"F","r":1050,"v":0.08},{"s":"F","r":1150,"v":0.09},{"s":"F","r":1250,"v":0.1},{"s":"F","r":1350,"v":0.09},{"s":"F","r":1450,"v":0.105},{"s":"F","r":1550,"v":0.095},{"s":"F","r":1650,"v":0.11},{"s":"F","r":1750,"v":0.1},{"s":"F","r":1850,"v":0.115},{"s":"F","r":1950,"v":0.125},{"s":"F","r":2050,"v":0.16},{"s":"F","r":2150,"v":0.165},{"s":"F","r":2250,"v":0.175},{"s":"F","r":2350,"v":0.17},{"s":"F","r":2450,"v":0.165},{"s":"F","r":2550,"v":0.17},{"s":"F","r":2650,"v":0.185},{"s":"F","r":2750,"v":0.175},{"s":"F","r":2850,"v":0.19},{"s":"F","r":2950,"v":0.2},{"s":"F","r":3050,"v":0.225},{"s":"F","r":3150,"v":0.21},{"s":"F","r":3250,"v":0.2},{"s":"F","r":3350,"v":0.225},{"s":"F","r":3450,"v":0.23},{"s":"F","r":3550,"v":0.245},{"s":"F","r":3650,"v":0.25},{"s":"F","r":3750,"v":0.245},{"s":"F","r":3850,"v":0.255},{"s":"F","r":3950,"v":0.24},{"s":"F","r":4050,"v":0.26},{"s":"F","r":4150,"v":0.265},{"s":"F","r":4250,"v":0.255},{"s":"F","r":4350,"v":0.265},{"s":"F","r":4450,"v":0.26},{"s":"F","r":4550,"v":0.275},{"s":"F","r":4650,"v":0.27},{"s":"F","r":4750,"v":0.29},{"s":"F","r":4850,"v":0.285},{"s":"F","r":4950,"v":0.29}
]
},
"hconcat":[
{
"width":512,"height":382,
"title":{"text":"(a) 50 clients."},
"data":{"name":"a"},
"transform":[{"lookup":"s","from":{"data":{"name":"names"},"key":"s","fields":["series"]}}],
"encoding":{
"x":{"field":"r","type":"quantitative","scale":{"domain":[-250,5250],"nice":false,"zero":false},"axis":{"values":[0,1000,2000,3000,4000,5000],"format":"d","title":"round"}},
"y":{"field":"v","type":"quantitative","scale":{"domain":[-0.0205,0.433],"nice":false,"zero":false},"axis":{"values":[0,0.05,0.1,0.15,0.2,0.25,0.3,0.35,0.4],"format":".2f","title":"accuracy"}},
"color":{"field":"series","type":"nominal","scale":{"domain":["FedSpace","FedSpace w/o proto. aggr.","FedSpace w/o server aggr.","FedSpace w/o pre-train","FedSpace w/o repr.","PASS + FedAvg","FedAvg"],"range":["#1f77b4","#ff7f0e","#2ca02c","#d62728","#9467bd","#8c564b","#e377c2"]}}
},
"layer":[
{"transform":[{"filter":"datum.s != 'F'"}],"mark":{"type":"line","strokeWidth":2}},
{"transform":[{"filter":"datum.s == 'F'"}],"mark":{"type":"line","strokeWidth":2}}
]
},
{
"width":510,"height":382,
"title":{"text":"(b) 500 clients."},
"data":{"name":"b"},
"transform":[{"lookup":"s","from":{"data":{"name":"names"},"key":"s","fields":["series"]}}],
"encoding":{
"x":{"field":"r","type":"quantitative","scale":{"domain":[-250,5250],"nice":false,"zero":false},"axis":{"values":[0,1000,2000,3000,4000,5000],"format":"d","title":"round"}},
"y":{"field":"v","type":"quantitative","scale":{"domain":[-0.011,0.311],"nice":false,"zero":false},"axis":{"values":[0,0.05,0.1,0.15,0.2,0.25,0.3],"format":".2f","title":"accuracy"}},
"color":{"field":"series","type":"nominal","scale":{"domain":["FedSpace","FedSpace w/o proto. aggr.","FedSpace w/o server aggr.","FedSpace w/o pre-train","FedSpace w/o repr.","PASS + FedAvg","FedAvg"],"range":["#1f77b4","#ff7f0e","#2ca02c","#d62728","#9467bd","#8c564b","#e377c2"]}}
},
"layer":[
{"transform":[{"filter":"datum.s != 'F'"}],"mark":{"type":"line","strokeWidth":2}},
{"transform":[{"filter":"datum.s == 'F'"}],"mark":{"type":"line","strokeWidth":2}}
]
}
]
}
